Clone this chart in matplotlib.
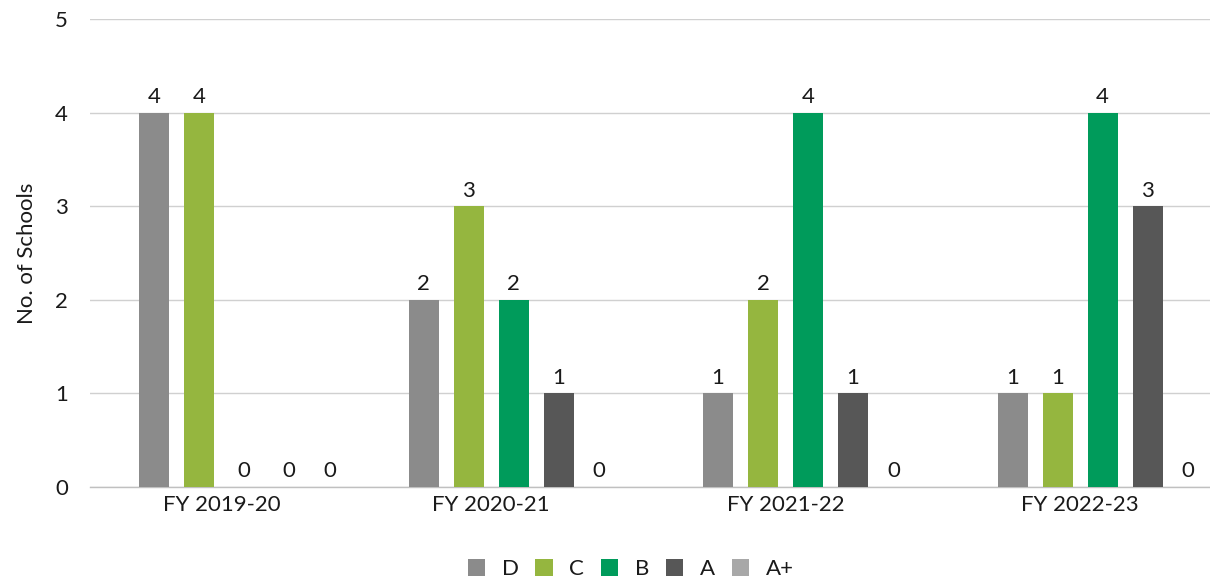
import matplotlib
matplotlib.use("Agg")
import matplotlib.pyplot as plt
from matplotlib.patches import Patch
import numpy as np

plt.rcParams['font.family'] = ['Lato', 'DejaVu Sans']

categories = ["FY 2019-20", "FY 2020-21", "FY 2021-22", "FY 2022-23"]
series_names = ["D", "C", "B", "A", "A+"]
D = [4, 2, 1, 1]
C = [4, 3, 2, 1]
B = [0, 2, 4, 4]
A = [0, 1, 1, 3]
A_plus = [0, 0, 0, 0]
series_values = [D, C, B, A, A_plus]
colors = ["#8b8b8b", "#95b63f", "#009b5b", "#575757", "#a8a8a8"]

fig = plt.figure(figsize=(12.1, 5.85), dpi=100)
ax = fig.add_axes([90/1210, 98/585, 1120/1210, 468/585])

group_x = np.array([0.085, 1, 2, 3])
step = 0.1528
width = 0.102
offsets = [-1.5, -0.5, 0.5, 1.5, 2.4]
fs = 16
tc = "#1a1a1a"

for vals, off, col in zip(series_values, offsets, colors):
    xs = group_x + off * step
    ax.bar(xs, vals, width=width, color=col, zorder=3)
    for x, v in zip(xs, vals):
        ax.annotate(str(v), (x, v), xytext=(0, 4), textcoords="offset points",
                    ha="center", va="bottom", fontsize=fs, color=tc)

ax.set_xlim(-0.3616, 3.441)
ax.set_ylim(0, 5)
ax.set_yticks(range(0, 6))
ax.set_xticks(group_x)
ax.set_xticklabels(categories)
ax.yaxis.grid(True, color="#d0d0d0", linewidth=1.0, zorder=0)
ax.set_axisbelow(True)
for s in ["top", "right", "left"]:
    ax.spines[s].set_visible(False)
ax.spines["bottom"].set_color("#c0c0c0")
ax.spines["bottom"].set_linewidth(1.0)
ax.tick_params(axis="both", length=0, labelsize=fs, labelcolor=tc)
ax.tick_params(axis="y", pad=16)
ax.tick_params(axis="x", pad=6)
ax.set_ylabel("No. of Schools", fontsize=fs, color=tc, labelpad=13)

handles = [Patch(facecolor=c, edgecolor="none") for c in colors]
leg = fig.legend(handles, series_names, loc="center", bbox_to_anchor=(0.5212, 1 - 569/585),
                 ncol=5, frameon=False, fontsize=fs, handlelength=0.78, handleheight=0.78,
                 handletextpad=0.75, columnspacing=0.75)
for t in leg.get_texts():
    t.set_color(tc)

fig.savefig("out.png", dpi=100)
